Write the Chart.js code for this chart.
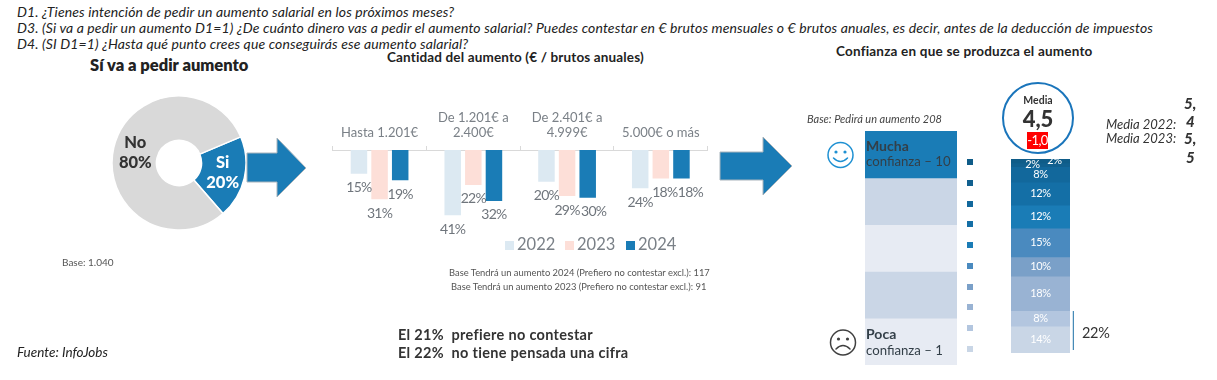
<!DOCTYPE html>
<html>
<head>
<meta charset="utf-8">
<title>Aumento salarial</title>
<script src="https://cdn.jsdelivr.net/npm/chart.js@4"></script>
<style>
  html, body { margin: 0; padding: 0; background: #fff; }
  body { width: 1217px; height: 380px; position: relative; overflow: hidden; font-family: Lato, sans-serif; color: #333; }
  canvas { position: absolute; }
  .t { position: absolute; white-space: nowrap; line-height: 1; }
  .q { font: italic 14px Lato, sans-serif; letter-spacing: 0.125px; color: #222; left: 17px; }
  .i { font-family: Lato, sans-serif; font-style: italic; }
  .h { font-weight: 700; color: #222; }
  .n { font-family: Lato, sans-serif; font-style: italic; font-weight: 900; font-size: 15px; color: #333; }
  .sq { position: absolute; left: 967px; width: 6px; height: 6px; }
  .leg { position: absolute; top: 235px; font-size: 16.5px; line-height: 18px; color: #7a8087; }
  .leg i { display: inline-block; width: 9px; height: 9px; margin-right: 3px; }
  svg { position: absolute; }
</style>
</head>
<body>

<div class="t q" style="top:3px">D1. ¿Tienes intención de pedir un aumento salarial en los próximos meses?</div>
<div class="t q" style="top:19px">D3. (Si va a pedir un aumento D1=1) ¿De cuánto dinero vas a pedir el aumento salarial? Puedes contestar en € brutos mensuales o € brutos anuales, es decir, antes de la deducción de impuestos</div>
<div class="t q" style="top:35px">D4. (SI D1=1) ¿Hasta qué punto crees que conseguirás ese aumento salarial?</div>

<div class="t h" style="left:90px;top:57px;font-size:16.5px;font-weight:800">Sí va a pedir aumento</div>
<div class="t h" style="left:387px;top:51px;font-size:13.5px;letter-spacing:.15px">Cantidad del aumento (€ / brutos anuales)</div>
<div class="t h" style="left:836px;top:45px;font-size:13.5px;letter-spacing:.2px">Confianza en que se produzca el aumento</div>

<canvas id="donut" width="138" height="138" style="left:110px;top:94px"></canvas>
<canvas id="barras" width="400" height="150" style="left:320px;top:90px"></canvas>
<canvas id="escala" width="92" height="234" style="left:865px;top:131px"></canvas>
<canvas id="pila" width="59" height="194" style="left:1011px;top:159px"></canvas>

<svg width="1217" height="380" style="left:0;top:0;pointer-events:none">
  <polygon points="247,153 277,153 277,138 306,168 277,197 277,182 247,182" fill="#1a7cb6" stroke="#a9b4bc" stroke-width="1"/>
  <polygon points="720,152 763,152 763,137 792,166 763,195 763,180 720,180" fill="#1a7cb6" stroke="#a9b4bc" stroke-width="1"/>
  <g fill="none" stroke="#1e90d2" stroke-width="1.5">
    <circle cx="840.5" cy="155" r="12.5"/>
    <path d="M833.5 158 q7 7 14 0" stroke-linecap="round"/>
  </g>
  <circle cx="836" cy="152" r="1.6" fill="#1e90d2"/><circle cx="845" cy="152" r="1.6" fill="#1e90d2"/>
  <g fill="none" stroke="#404040" stroke-width="1.5">
    <circle cx="843" cy="342.5" r="12.5"/>
    <path d="M836 349 q7 -7 14 0" stroke-linecap="round"/>
  </g>
  <circle cx="838.5" cy="339" r="1.6" fill="#404040"/><circle cx="847.5" cy="339" r="1.6" fill="#404040"/>
  <line x1="1073.3" y1="311" x2="1073.3" y2="350" stroke="#1a6fa5" stroke-width="1"/>
</svg>

<div class="t" style="left:62px;top:257px;font-size:10px;color:#555">Base: 1.040</div>
<div class="t" style="left:449px;top:268px;font-size:9.4px;color:#555">Base Tendrá un aumento 2024 (Prefiero no contestar excl.): 117</div>
<div class="t" style="left:451px;top:282px;font-size:9.4px;color:#555">Base Tendrá un aumento 2023 (Prefiero no contestar excl.): 91</div>
<div class="t h" style="left:398px;top:328px;font-size:14.5px;letter-spacing:.3px;color:#333">El 21%&nbsp; prefiere no contestar</div>
<div class="t h" style="left:398px;top:346px;font-size:14.5px;letter-spacing:.3px;color:#333">El 22%&nbsp; no tiene pensada una cifra</div>
<div class="t i" style="left:17px;top:346px;font-size:13.5px;color:#222">Fuente: InfoJobs</div>

<div class="t i" style="left:807px;top:113px;font-size:11px;color:#444">Base: Pedirá un aumento 208</div>
<div class="t" style="left:866px;top:139px;font-size:14px;font-weight:700;color:#333f48">Mucha</div>
<div class="t" style="left:866px;top:155px;font-size:13.2px;color:#333f48">confianza – 10</div>
<div class="t" style="left:866px;top:327px;font-size:14px;font-weight:700;color:#333f48">Poca</div>
<div class="t" style="left:866px;top:344px;font-size:13.2px;color:#333f48">confianza – 1</div>

<div style="position:absolute;left:1002px;top:82px;width:68px;height:68px;border:2px solid #1a75bb;border-radius:50%;background:#fff"></div>
<div class="t h" style="left:1002px;width:72px;text-align:center;top:95px;font-size:10.5px;color:#333">Media</div>
<div class="t h" style="left:1002px;width:72px;text-align:center;top:108px;font-size:22px;font-weight:900;color:#333">4,5</div>
<div class="t" style="left:1027px;top:132px;width:21px;height:17px;line-height:17px;text-align:center;background:#f00;color:#fff;font-size:13px;letter-spacing:-.6px">-1,0</div>

<div class="t i" style="left:1106px;top:118px;font-size:13px;color:#333">Media 2022:</div>
<div class="t i" style="left:1106px;top:132px;font-size:13px;color:#333">Media 2023:</div>
<div class="t n" style="left:1184px;top:96px">5,</div>
<div class="t n" style="left:1186px;top:114px">4</div>
<div class="t n" style="left:1184px;top:131px">5,</div>
<div class="t n" style="left:1186px;top:150px">5</div>
<div class="t" style="left:1082px;top:326px;font-size:14.5px;letter-spacing:-.3px;color:#333">22%</div>

<div id="leyenda"></div>
<div id="cuadros"></div>

<script>
  // datos
  const donutLabels = ['Si', 'No'];
  const donutValues = [20, 80];
  const donutColors = ['#1a7cb6', '#d9d9d9'];

  const rangos = ['Hasta 1.201€', ['De 1.201€ a', '2.400€'], ['De 2.401€ a', '4.999€'], '5.000€ o más'];
  const anios = ['2022', '2023', '2024'];
  const valores2022 = [15, 41, 20, 24];
  const valores2023 = [31, 22, 29, 18];
  const valores2024 = [19, 32, 30, 18];
  const coloresAnios = ['#dce9f2', '#fddfd8', '#1a7cb6'];

  const confianzaValores = [2, 2, 8, 12, 12, 15, 10, 18, 8, 14];
  const confianzaColores = ['#0f5c88', '#11608f', '#12689c', '#146fa6', '#1a7cb6', '#4a8abf', '#7aa0c8', '#99b3d3', '#b3c6df', '#c9d6e6'];

  const escalaValores = [1, 1, 1, 1, 1];
  const escalaColores = ['#1a7cb6', '#cad6e6', '#e7ebf3', '#cad6e6', '#e7ebf3'];

  const leyendaX = [505, 565, 626];

  // leyenda de años
  document.getElementById('leyenda').innerHTML = anios.map((a, i) =>
    '<div class="leg" style="left:' + leyendaX[i] + 'px"><i style="background:' + coloresAnios[i] + '"></i>' + a + '</div>').join('');

  // cuadraditos junto a la pila
  document.getElementById('cuadros').innerHTML = confianzaColores.map((c, i) =>
    '<div class="sq" style="top:' + (159 + i * 20.75) + 'px;background:' + c + '"></div>').join('');

  Chart.defaults.font.family = 'Lato, sans-serif';
  Chart.defaults.animation = false;
  Chart.defaults.responsive = false;
  Chart.defaults.plugins.legend.display = false;
  Chart.defaults.plugins.tooltip.enabled = false;

  const etiquetasDonut = {
    id: 'etiquetasDonut',
    afterDatasetsDraw(chart) {
      const ctx = chart.ctx;
      chart.getDatasetMeta(0).data.forEach((arc, i) => {
        const p = arc.tooltipPosition();
        ctx.save();
        ctx.font = '900 16.5px Lato, sans-serif';
        ctx.textAlign = 'center';
        ctx.textBaseline = 'middle';
        ctx.fillStyle = i == 0 ? '#fff' : '#333';
        ctx.fillText(donutLabels[i], p.x, p.y - 10);
        ctx.fillText(donutValues[i] + '%', p.x, p.y + 10);
        ctx.restore();
      });
    }
  };

  new Chart(document.getElementById('donut'), {
    type: 'doughnut',
    data: {
      labels: donutLabels,
      datasets: [{ data: donutValues, backgroundColor: donutColors, borderColor: '#fff', borderWidth: 1.5, radius: 67, cutout: 23, rotation: 67 }]
    },
    plugins: [etiquetasDonut]
  });

  // en el original estas etiquetas estan movidas a mano para que no se pisen
  const desplazaEtiqueta = { '2,2': 6, '1,3': 4, '2,3': 9 };

  const etiquetasBarras = {
    id: 'etiquetasBarras',
    afterDatasetsDraw(chart) {
      const ctx = chart.ctx;
      ctx.save();
      ctx.font = '14px Lato, sans-serif';
      ctx.letterSpacing = '-0.7px';
      ctx.textAlign = 'center';
      ctx.textBaseline = 'middle';
      ctx.fillStyle = '#6f757c';
      chart.data.datasets.forEach((ds, d) => {
        chart.getDatasetMeta(d).data.forEach((bar, i) => {
          const dx = desplazaEtiqueta[d + ',' + i] || 0;
          ctx.fillText(ds.data[i] + '%', bar.x + dx, bar.y + 14);
        });
      });
      ctx.restore();
    }
  };

  new Chart(document.getElementById('barras'), {
    type: 'bar',
    data: {
      labels: rangos,
      datasets: [
        { label: anios[0], data: valores2022, backgroundColor: coloresAnios[0] },
        { label: anios[1], data: valores2023, backgroundColor: coloresAnios[1] },
        { label: anios[2], data: valores2024, backgroundColor: coloresAnios[2] }
      ]
    },
    options: {
      layout: { padding: { left: 12.7, right: 12.3, top: 0, bottom: 10.5 } },
      categoryPercentage: 0.66,
      barPercentage: 0.8,
      scales: {
        x: {
          position: 'top',
          afterFit(s) { s.height = 60; },
          grid: { offset: true, drawOnChartArea: false, tickLength: 4, color: '#d9d9d9' },
          border: { color: '#d9d9d9' },
          ticks: { autoSkip: false, maxRotation: 0, padding: 5, color: '#7a8087', font: { size: 13 } }
        },
        y: { display: false, reverse: true, min: 0, max: 50 }
      }
    },
    plugins: [etiquetasBarras]
  });

  new Chart(document.getElementById('escala'), {
    type: 'bar',
    data: {
      labels: [''],
      datasets: escalaValores.map((v, i) => ({ data: [v], backgroundColor: escalaColores[i] }))
    },
    options: {
      categoryPercentage: 1,
      barPercentage: 1,
      scales: {
        x: { display: false, stacked: true },
        y: { display: false, stacked: true, reverse: true, min: 0, max: 5 }
      }
    }
  });

  const etiquetasPila = {
    id: 'etiquetasPila',
    afterDatasetsDraw(chart) {
      const ctx = chart.ctx;
      ctx.save();
      ctx.font = '11px Lato, sans-serif';
      ctx.letterSpacing = '-0.3px';
      ctx.textAlign = 'center';
      ctx.textBaseline = 'middle';
      ctx.fillStyle = '#fff';
      chart.data.datasets.forEach((ds, d) => {
        const bar = chart.getDatasetMeta(d).data[0];
        // los dos 2% no caben uno encima de otro, van desplazados
        const dx = d == 0 ? 14 : d == 1 ? -8 : 0;
        ctx.fillText(ds.data[0] + '%', bar.x + dx, (bar.y + bar.base) / 2);
      });
      ctx.restore();
    }
  };

  new Chart(document.getElementById('pila'), {
    type: 'bar',
    data: {
      labels: [''],
      datasets: confianzaValores.map((v, i) => ({ data: [v], backgroundColor: confianzaColores[i] }))
    },
    options: {
      categoryPercentage: 1,
      barPercentage: 1,
      scales: {
        x: { display: false, stacked: true },
        y: { display: false, stacked: true, reverse: true, min: 0, max: 101 }
      }
    },
    plugins: [etiquetasPila]
  });
</script>
</body>
</html>
